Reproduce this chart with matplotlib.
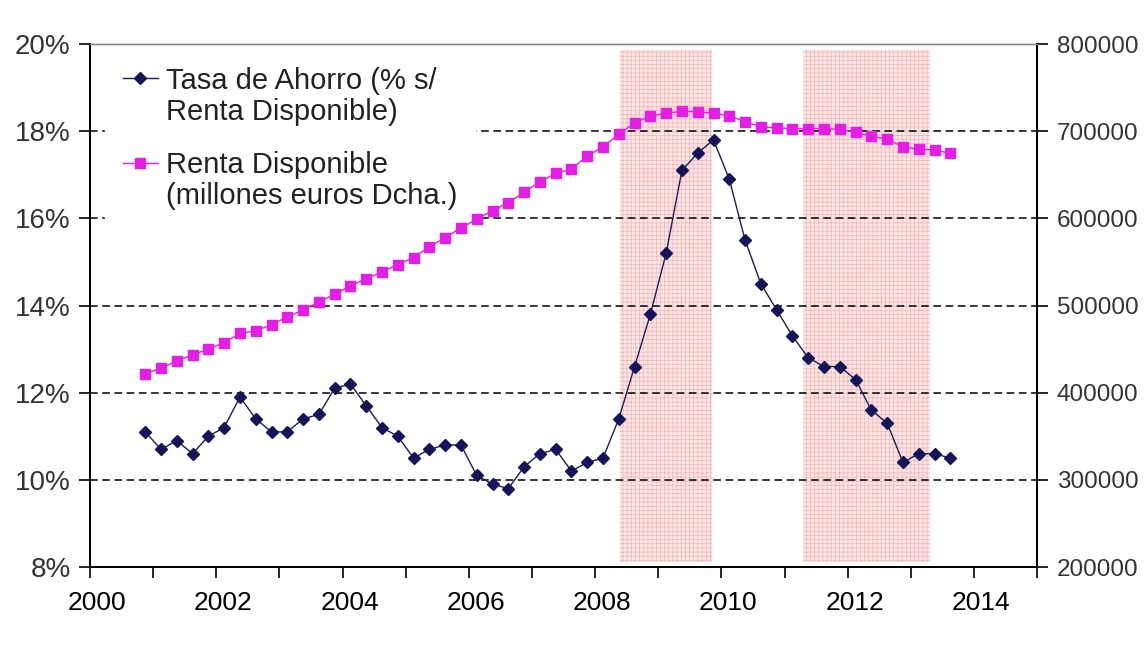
import matplotlib
matplotlib.use("Agg")
import matplotlib.pyplot as plt
import matplotlib.ticker as mticker
import matplotlib.transforms as mtransforms
from matplotlib.legend_handler import HandlerLine2D
import numpy as np
import pandas as pd

plt.rcParams["font.family"] = ["Liberation Sans", "DejaVu Sans"]
plt.rcParams["hatch.linewidth"] = 0.5

# Quarterly data, 2000Q4 - 2013Q3
quarters = pd.period_range("2000Q4", "2013Q3", freq="Q")

tasa_ahorro = [
    11.1, 10.7, 10.9, 10.6, 11.0, 11.2, 11.9, 11.4, 11.1, 11.1,
    11.4, 11.5, 12.1, 12.2, 11.7, 11.2, 11.0, 10.5, 10.7, 10.8,
    10.8, 10.1, 9.9, 9.8, 10.3, 10.6, 10.7, 10.2, 10.4, 10.5,
    11.4, 12.6, 13.8, 15.2, 17.1, 17.5, 17.8, 16.9, 15.5, 14.5,
    13.9, 13.3, 12.8, 12.6, 12.6, 12.3, 11.6, 11.3, 10.4, 10.6,
    10.6, 10.5,
]

renta_disponible = [
    422000, 428000, 436500, 443500, 450000, 457500, 468000, 471000, 478000, 487000,
    495000, 504000, 513000, 522500, 531000, 538500, 547000, 555000, 567500, 578000,
    589000, 599000, 609000, 618000, 630000, 642000, 651500, 656500, 671500, 682000,
    696500, 709500, 717500, 720500, 723000, 722000, 721000, 717500, 711000, 705000,
    704000, 703000, 702500, 703000, 702000, 699000, 694000, 691000, 682000, 679500,
    678500, 674500,
]

# crisis periods shaded (decimal years)
shade_periods = [(2008.4, 2009.85), (2011.3, 2013.3)]

label_tasa = "Tasa de Ahorro (% s/\nRenta Disponible)"
label_renta = "Renta Disponible\n(millones euros Dcha.)"

LEGEND_SIZE = 21
LINE_SPACING = 1.15


class FirstLineHandler(HandlerLine2D):
    """Put the legend handle next to the first line of a two-line label."""

    def create_artists(self, legend, orig_handle, xdescent, ydescent, width,
                       height, fontsize, trans):
        artists = super().create_artists(legend, orig_handle, xdescent, ydescent,
                                         width, height, fontsize, trans)
        shift = 0.5 * fontsize * LINE_SPACING * 1.12
        for a in artists:
            a.set_ydata(np.asarray(a.get_ydata()) + shift)
        return artists


# mid-quarter positions on a decimal-year axis
x = [q.year + (q.quarter - 1) / 4 + 0.125 for q in quarters]

fig = plt.figure(figsize=(11.46, 6.48), dpi=100)
ax1 = fig.add_axes([0.0785, 0.125, 0.8265, 0.807])
ax2 = ax1.twinx()

for start, end in shade_periods:
    ax1.axvspan(start, end, ymin=0.01, ymax=0.988, facecolor="#fde6e6",
                edgecolor="#f4b4b4", hatch="++++", linewidth=0, zorder=0)

for val in [10, 12, 14, 16, 18]:
    ax1.axhline(val, color="black", linestyle=(0, (5, 3)), linewidth=1.1, zorder=1)

ax1.plot(x, tasa_ahorro, color="#1c1c5a", linewidth=1.0, marker="D",
         markersize=6.5, markerfacecolor="#14145a", markeredgecolor="#14145a",
         label=label_tasa, zorder=3)
# drawn above the legend box, as in the original
ax2.plot(x, renta_disponible, color="#e41ee4", linewidth=1.0, marker="s",
         markersize=7.5, markerfacecolor="#e41ee4", markeredgecolor="#e41ee4",
         label=label_renta, zorder=6)

ax1.set_xlim(2000, 2015)
ax1.set_ylim(8, 20)
ax2.set_ylim(200000, 800000)

ax1.xaxis.set_major_locator(mticker.MultipleLocator(2))
ax1.xaxis.set_minor_locator(mticker.MultipleLocator(1))
ax1.yaxis.set_major_locator(mticker.MultipleLocator(2))
ax1.yaxis.set_major_formatter(mticker.FuncFormatter(lambda v, p: f"{v:.0f}%"))
ax2.yaxis.set_major_locator(mticker.MultipleLocator(100000))
ax2.yaxis.set_major_formatter(mticker.FuncFormatter(lambda v, p: f"{v:.0f}"))

ax1.tick_params(axis="x", which="both", direction="out", length=8, width=1.2,
                labelsize=19, pad=9, colors="black")
ax1.tick_params(axis="x", which="minor", labelbottom=False)
ax1.tick_params(axis="y", direction="out", length=8, width=1.2, labelsize=20,
                pad=6, labelcolor="#333333")
ax2.tick_params(axis="y", direction="out", length=8, width=1.2, labelsize=17.5,
                pad=6, labelcolor="#333333")

# year labels sit a little right of their tick in the original
shift = mtransforms.ScaledTranslation(7 / 100, 0, fig.dpi_scale_trans)
for lbl in ax1.get_xticklabels():
    lbl.set_transform(lbl.get_transform() + shift)

for ax in (ax1, ax2):
    ax.spines["left"].set_linewidth(1.4)
    ax.spines["right"].set_linewidth(1.4)
    ax.spines["bottom"].set_linewidth(1.4)
    ax.spines["top"].set_color("#888888")
    ax.spines["top"].set_linewidth(1.0)

h1, l1 = ax1.get_legend_handles_labels()
h2, l2 = ax2.get_legend_handles_labels()
leg = ax2.legend(h1 + h2, l1 + l2, loc="upper left", bbox_to_anchor=(0.016, 0.99),
                 borderaxespad=0, fontsize=LEGEND_SIZE, frameon=True, fancybox=False,
                 handlelength=1.2, handletextpad=0.3, labelspacing=0.85,
                 borderpad=0.6,
                 handler_map={h: FirstLineHandler() for h in h1 + h2})
leg.set_zorder(5)
leg.get_frame().set_facecolor("white")
leg.get_frame().set_edgecolor("white")
leg.get_frame().set_alpha(1.0)
for t in leg.get_texts():
    t.set_color("#222222")
    t.set_linespacing(LINE_SPACING)

fig.savefig("out.png", dpi=100)
